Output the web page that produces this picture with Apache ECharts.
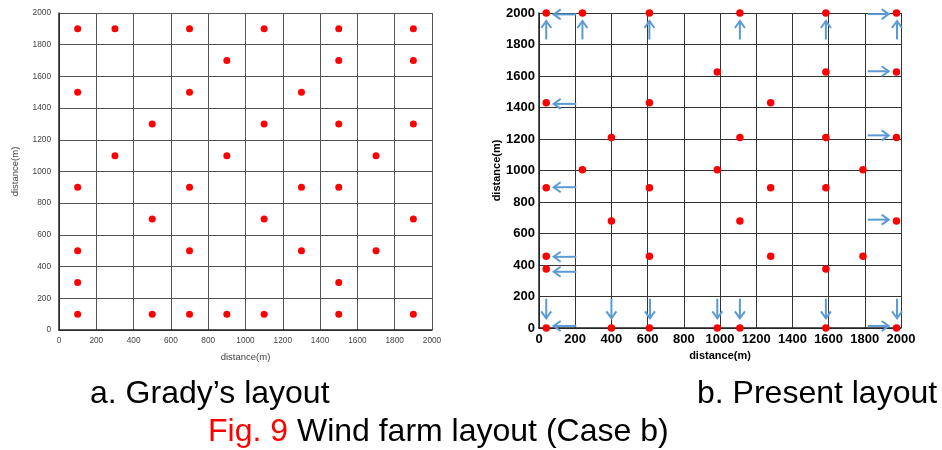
<!DOCTYPE html>
<html><head><meta charset="utf-8">
<script src="https://cdn.jsdelivr.net/npm/echarts@6/dist/echarts.min.js"></script>
<style>html,body{margin:0;padding:0;background:#fff}#c{width:942px;height:450px}</style>
</head><body><div id="c"></div>
<script>
// Tick labels (both panels)
const ticks = [0,200,400,600,800,1000,1200,1400,1600,1800,2000];
// a. Grady's layout turbine positions [x, y] in m
const gradyPoints = [
  [100,1900],[300,1900],[700,1900],[1100,1900],[1500,1900],[1900,1900],
  [900,1700],[1500,1700],[1900,1700],
  [100,1500],[700,1500],[1300,1500],
  [500,1300],[1100,1300],[1500,1300],[1900,1300],
  [300,1100],[900,1100],[1700,1100],
  [100,900],[700,900],[1300,900],[1500,900],
  [500,700],[1100,700],[1900,700],
  [100,500],[700,500],[1300,500],[1700,500],
  [100,300],[1500,300],
  [100,100],[500,100],[700,100],[900,100],[1100,100],[1500,100],[1900,100]
];
// b. Present layout turbine positions [x, y] in m
const presentPoints = [
  [40,2000],[240,2000],[610,2000],[1110,2000],[1585,2000],[1975,2000],
  [985,1625],[1585,1625],[1975,1625],
  [40,1430],[610,1430],[1280,1430],
  [400,1210],[1110,1210],[1585,1210],[1975,1210],
  [240,1005],[985,1005],[1790,1005],
  [40,890],[610,890],[1280,890],[1585,890],
  [400,680],[1110,680],[1975,680],
  [40,455],[610,455],[1280,455],[1790,455],
  [40,375],[1585,375],
  [40,0],[400,0],[610,0],[985,0],[1110,0],[1585,0],[1975,0]
];
// movement arrows [x tail, y tail, x head, y head] in m
const leftArrows = [[206,1991,81,1991],[206,1423,81,1423],[206,894,81,894],[206,452,81,452],[206,357,81,357],[206,13,81,13]];
const rightArrows = [[1816,1993,1932,1993],[1816,1630,1932,1630],[1816,1223,1932,1223],[1816,688,1932,688],[1816,13,1932,13]];
const upArrows = [[40,1832,40,1949],[240,1832,240,1949],[610,1832,610,1949],[1110,1832,1110,1949],[1585,1832,1585,1949],[1978,1832,1978,1949]];
const downArrows = [[40,186,40,61],[400,186,400,61],[613,186,613,61],[985,186,985,61],[1110,186,1110,61],[1585,186,1585,61],[1978,186,1978,61]];

const FONT = 'Liberation Sans, Arial, sans-serif';
const arrowColor = '#5B9BD5';

function axisCommon(light, idx, name, isY) {
  return {
    type: 'value', gridIndex: idx, min: 0, max: 2000, interval: 200,
    name: name, nameLocation: 'middle',
    nameGap: isY ? (light ? 39 : 33) : 22,
    nameTextStyle: light ? {fontFamily: FONT, fontSize: 9.5, color: '#444'} :
                           {fontFamily: FONT, fontSize: 11, fontWeight: 'bold', color: '#000'},
    axisLine: {show: true, onZero: false, lineStyle: {color: '#222', width: 1.5}},
    axisTick: {show: false},
    axisLabel: Object.assign(
      {formatter: function (v) { return ticks.indexOf(v) >= 0 ? String(v) : ''; }},
      light ? {fontFamily: FONT, fontSize: 8.3, color: '#444', margin: isY ? 8 : 7} :
              {fontFamily: FONT, fontSize: 13, fontWeight: 'bold', color: '#000', margin: isY ? 4 : 5}),
    splitLine: {show: true, lineStyle: {color: light ? '#555' : '#333', width: 1}}
  };
}

function arrowRender(params, api) {
  const p1 = api.coord([api.value(0), api.value(1)]);
  const p2 = api.coord([api.value(2), api.value(3)]);
  const dx = p2[0] - p1[0], dy = p2[1] - p1[1];
  const len = Math.sqrt(dx*dx + dy*dy);
  const ux = dx/len, uy = dy/len;
  const hl = 7, hw = 5;
  const a = [p2[0] - ux*hl - uy*hw, p2[1] - uy*hl + ux*hw];
  const b = [p2[0] - ux*hl + uy*hw, p2[1] - uy*hl - ux*hw];
  const st = {stroke: arrowColor, lineWidth: 2, fill: null};
  return {type: 'group', children: [
    {type: 'line', shape: {x1: p1[0], y1: p1[1], x2: p2[0], y2: p2[1]}, style: st},
    {type: 'polyline', shape: {points: [a, p2, b]}, style: st}
  ]};
}

const allArrows = leftArrows.concat(rightArrows, upArrows, downArrows);

const chart = echarts.init(document.getElementById('c'));
chart.setOption({
  animation: false,
  backgroundColor: '#fff',
  grid: [
    {left: 59, top: 13, width: 373, height: 317},
    {left: 539, top: 13, width: 362, height: 315}
  ],
  xAxis: [axisCommon(true, 0, 'distance(m)', false), axisCommon(false, 1, 'distance(m)', false)],
  yAxis: [axisCommon(true, 0, 'distance(m)', true), axisCommon(false, 1, 'distance(m)', true)],
  title: [
    {text: 'a. Grady\u2019s layout', left: 90, top: 378, textStyle: {fontFamily: FONT, fontSize: 32, fontWeight: 'normal', color: '#000'}, padding: 0},
    {text: 'b. Present layout', left: 697, top: 378, textStyle: {fontFamily: FONT, fontSize: 32, fontWeight: 'normal', color: '#000'}, padding: 0},
    {text: '{r|Fig. 9} Wind farm layout (Case b)', left: 208, top: 416, padding: 0,
     textStyle: {fontFamily: FONT, fontSize: 32, fontWeight: 'normal', color: '#000',
       rich: {r: {fontFamily: FONT, fontSize: 32, color: '#f00'}}}}
  ],
  series: [
    {type: 'scatter', xAxisIndex: 0, yAxisIndex: 0, data: gradyPoints, symbolSize: 7, itemStyle: {color: '#f00', opacity: 1}},
    {type: 'scatter', xAxisIndex: 1, yAxisIndex: 1, data: presentPoints, symbolSize: 7.5, itemStyle: {color: '#f00', opacity: 1}, z: 5},
    {type: 'custom', xAxisIndex: 1, yAxisIndex: 1, data: allArrows, renderItem: arrowRender,
     encode: {x: [0, 2], y: [1, 3]}, clip: false, z: 4}
  ]
});
</script></body></html>
